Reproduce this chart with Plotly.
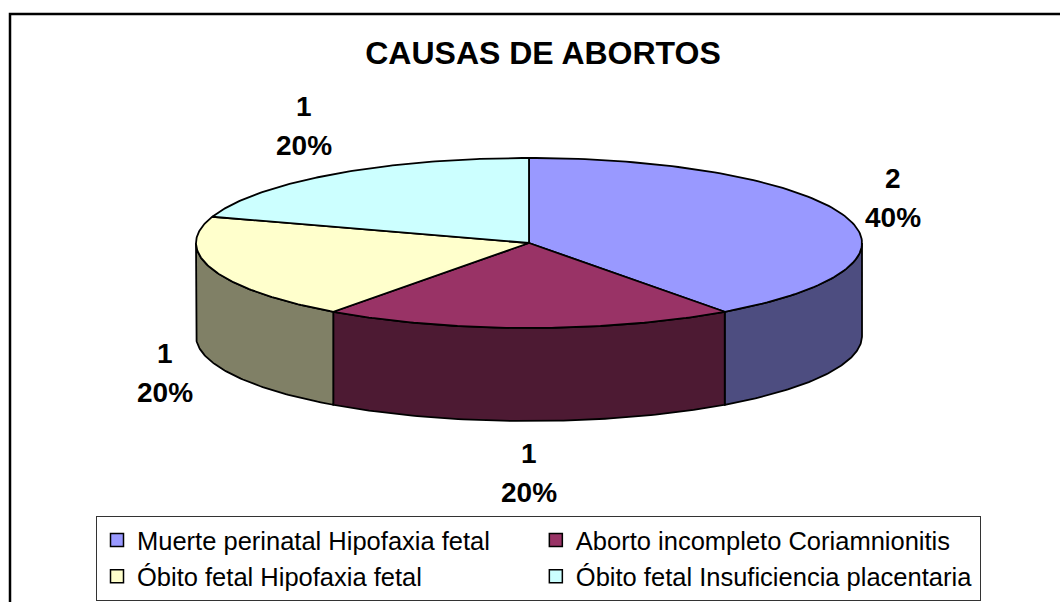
import numpy as np
import plotly.graph_objects as go

# ---- data ----
categories = [
    "Muerte perinatal Hipofaxia fetal",
    "Aborto incompleto Coriamnionitis",
    "Óbito fetal Hipofaxia fetal",
    "Óbito fetal Insuficiencia placentaria",
]
values = [2, 1, 1, 1]
title_text = "CAUSAS DE ABORTOS"

# ---- styles ----
top_colors = ["#9999FF", "#993366", "#FFFFCC", "#CCFFFF"]
side_colors = ["#4D4D80", "#4D1A33", "#808066", "#668080"]
FONT = "Liberation Sans, Arial, sans-serif"

W, H = 1060, 602
CX, CY, RX, RY, DEPTH = 529, 243, 333, 85, 93


def pt(theta_deg, dy=0.0):
    t = np.radians(theta_deg)
    return CX + RX * np.sin(t), CY - RY * np.cos(t) + dy


total = float(sum(values))
cum = np.concatenate([[0.0], np.cumsum(values)]) / total * 360.0

fig = go.Figure()

# side walls (front half only)
for i in range(len(values)):
    a1, a2 = cum[i], cum[i + 1]
    s, e = max(a1, 90.0), min(a2, 270.0)
    if e > s:
        th = np.linspace(s, e, 80)
        xt, yt = pt(th)
        xb, yb = pt(th[::-1], DEPTH)
        xs = np.concatenate([xt, xb, xt[:1]])
        ys = np.concatenate([yt, yb, yt[:1]])
        fig.add_trace(go.Scatter(
            x=xs, y=ys, mode="lines", fill="toself",
            fillcolor=side_colors[i], line=dict(color="black", width=1.8),
            hoverinfo="skip", showlegend=False))

# top faces
for i in range(len(values)):
    a1, a2 = cum[i], cum[i + 1]
    th = np.linspace(a1, a2, 120)
    x, y = pt(th)
    xs = np.concatenate([[CX], x, [CX]])
    ys = np.concatenate([[CY], y, [CY]])
    fig.add_trace(go.Scatter(
        x=xs, y=ys, mode="lines", fill="toself",
        fillcolor=top_colors[i], line=dict(color="black", width=1.8),
        hoverinfo="skip", showlegend=False))

# legend entries
for i, c in enumerate(categories):
    fig.add_trace(go.Scatter(
        x=[None], y=[None], mode="markers", name=c,
        marker=dict(symbol="square", size=13, color=top_colors[i],
                    line=dict(color="black", width=1.5))))

# data labels
for i, v in enumerate(values):
    mid = (cum[i] + cum[i + 1]) / 2.0
    t = np.radians(mid)
    lx = CX + 1.15 * RX * np.sin(t)
    ly = CY - 1.7 * RY * np.cos(t) + ((DEPTH - 8) if np.cos(t) < 0 else 0)
    pct = f"{round(100 * v / total)}%"
    for txt, shift in ((str(v), 19.5), (pct, -19.5)):
        fig.add_annotation(
            x=lx, y=ly, xref="x", yref="y", text=f"<b>{txt}</b>",
            showarrow=False, xanchor="center", yanchor="middle", yshift=shift,
            font=dict(family=FONT, size=28, color="black"))

# chart border
fig.add_shape(type="rect", xref="paper", yref="paper",
              x0=10 / W, x1=1.02, y0=-0.02, y1=1 - 14 / H,
              line=dict(color="black", width=2.5), fillcolor="rgba(0,0,0,0)",
              layer="above")

fig.update_layout(
    width=W, height=H,
    margin=dict(l=0, r=0, t=0, b=0, pad=0, autoexpand=False),
    paper_bgcolor="white", plot_bgcolor="white",
    xaxis=dict(range=[0, W], visible=False, fixedrange=True),
    yaxis=dict(range=[H, 0], visible=False, fixedrange=True),
    title=dict(text=f"<b>{title_text}</b>", x=543 / W, y=1 - 53 / H,
               xanchor="center", yanchor="middle", xref="paper", yref="paper",
               font=dict(family=FONT, size=32, color="black")),
    showlegend=True,
    legend=dict(
        orientation="h", x=96 / W, xanchor="left", y=1 - 516 / H, yanchor="top",
        xref="paper", yref="paper",
        bordercolor="#333333", borderwidth=1, bgcolor="white",
        font=dict(family=FONT, size=25.5, color="black"),
        entrywidth=0.414, entrywidthmode="fraction", itemwidth=30,
        traceorder="normal",
    ),
)

fig.write_html(
    "out.html",
    config={"displayModeBar": False},
    post_script="document.body.style.margin='0';document.body.style.overflow='hidden';",
)
